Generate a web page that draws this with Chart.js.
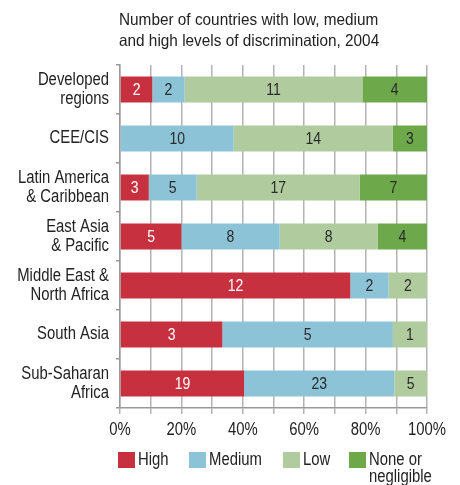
<!DOCTYPE html>
<html><head><meta charset="utf-8">
<script src="https://cdn.jsdelivr.net/npm/chart.js@4/dist/chart.umd.min.js"></script>
<style>
html,body{margin:0;padding:0;background:#fff;}
#wrap{position:relative;width:460px;height:485px;overflow:hidden;font-family:'Liberation Sans',Arial,sans-serif;color:#222;}
#title{position:absolute;left:119px;top:9px;font-size:16.5px;line-height:21px;white-space:nowrap;transform:scaleX(0.93);transform-origin:0 0;}
canvas{position:absolute;left:0;top:0;}
.lg{position:absolute;font-size:17.5px;line-height:17px;white-space:nowrap;transform:scaleX(0.85);transform-origin:0 0;}
.sq{position:absolute;width:17px;height:16px;}
</style></head><body>
<div id="wrap">
<canvas id="c" width="460" height="485"></canvas>
<div id="title">Number of countries with low, medium<br>and high levels of discrimination, 2004</div>
<div id="legend"></div>
</div>
<script>
const categories = [['Developed','regions'],'CEE/CIS',['Latin America','& Caribbean'],['East Asia','& Pacific'],['Middle East &','North Africa'],'South Asia',['Sub-Saharan','Africa']];
const seriesNames = ['High','Medium','Low',['None or','negligible']];
const high   = [2, 0, 3, 5, 12, 3, 19];
const medium = [2, 10, 5, 8, 2, 5, 23];
const low    = [11, 14, 17, 8, 2, 1, 5];
const none   = [4, 3, 7, 4, 0, 0, 0];
const xTicks = [0, 20, 40, 60, 80, 100];

const colors = ['#C7313F','#8CC3D7','#B0CC9E','#6DA84A'];
const labelColors = ['#ffffff','#2a2a2a','#2a2a2a','#2a2a2a'];
const counts = [high, medium, low, none];
const totals = categories.map((c,i)=>counts.reduce((s,a)=>s+a[i],0));
const FONT = "'Liberation Sans',Arial,sans-serif";
const SX = 0.85;

const datasets = counts.map((arr,k)=>({
  label: Array.isArray(seriesNames[k]) ? seriesNames[k].join(' ') : seriesNames[k],
  data: arr.map((v,i)=>v/totals[i]*100),
  counts: arr,
  backgroundColor: colors[k],
  borderWidth: 0,
  barPercentage: 0.53,
  categoryPercentage: 1
}));

function txt(ctx, s, x, y){
  ctx.save(); ctx.translate(x,y); ctx.scale(SX,1); ctx.fillText(s,0,0); ctx.restore();
}

const condensedText = {
  id:'condensedText',
  afterDraw(chart){
    const ctx = chart.ctx;
    const xs = chart.scales.x, ys = chart.scales.y;
    ctx.save();
    ctx.textBaseline='middle';
    ctx.font = "16.5px " + FONT; ctx.textAlign='center';
    chart.data.datasets.forEach((ds,k)=>{
      chart.getDatasetMeta(k).data.forEach((el,i)=>{
        const v = ds.counts[i];
        if(!v) return;
        ctx.fillStyle = labelColors[k];
        txt(ctx, String(v), (el.x+el.base)/2, el.y+1);
      });
    });
    ctx.fillStyle='#222'; ctx.font = "17.5px " + FONT; ctx.textAlign='right';
    chart.data.labels.forEach((lab,i)=>{
      const lines = Array.isArray(lab) ? lab : [lab];
      const yc = ys.getPixelForValue(i);
      const lh = 19;
      lines.forEach((ln,j)=>{
        txt(ctx, ln, ys.right-11, yc + (j-(lines.length-1)/2)*lh);
      });
    });
    ctx.textAlign='center';
    xTicks.forEach(v=>{
      txt(ctx, v+'%', xs.getPixelForValue(v), xs.top+22);
    });
    ctx.restore();
  }
};

new Chart(document.getElementById('c'),{
  type:'bar',
  data:{labels:categories,datasets},
  options:{
    indexAxis:'y',
    responsive:false,
    animation:false,
    layout:{padding:{top:65,right:33,left:0,bottom:0}},
    plugins:{legend:{display:false},title:{display:false},tooltip:{enabled:false}},
    scales:{
      x:{
        stacked:true,min:0,max:100,
        afterFit(s){s.height=77;},
        ticks:{stepSize:10,autoSkip:false,display:false},
        grid:{color:'#b3b3b3',lineWidth:1.5,tickLength:6,drawTicks:true},
        border:{color:'#999',width:1.5}
      },
      y:{
        stacked:true,
        afterFit(s){s.width=120;},
        ticks:{display:false},
        grid:{offset:true,drawOnChartArea:false,tickLength:4,color:'#999',lineWidth:1.5},
        border:{color:'#999',width:1.5}
      }
    }
  },
  plugins:[condensedText]
});

const lg = document.getElementById('legend');
const pos = [[118,138],[189,209],[283,303],[349,369]];
seriesNames.forEach((n,k)=>{
  const sq = document.createElement('div');
  sq.className='sq'; sq.style.left=pos[k][0]+'px'; sq.style.top='452px'; sq.style.background=colors[k];
  lg.appendChild(sq);
  const t = document.createElement('div');
  t.className='lg'; t.style.left=pos[k][1]+'px'; t.style.top='451px';
  t.innerHTML = Array.isArray(n) ? n.join('<br>') : n;
  lg.appendChild(t);
});
</script>
</body></html>
